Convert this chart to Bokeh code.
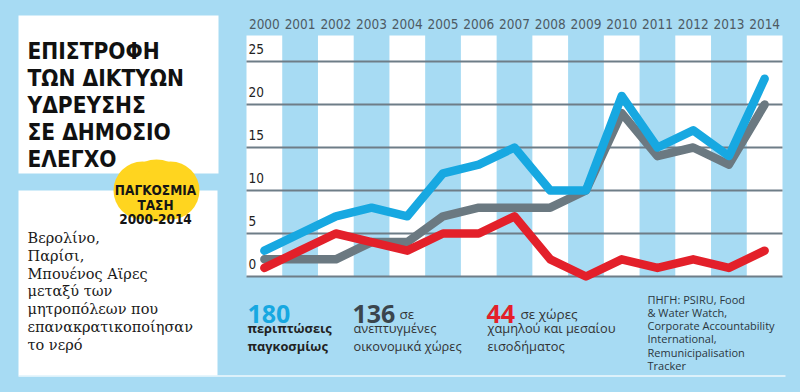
import numpy as np
from bokeh.plotting import figure
from bokeh.models import Range1d
from bokeh.core.properties import value
from bokeh.embed import file_html
from bokeh.resources import INLINE

# ---- data ----
years = [2000, 2001, 2002, 2003, 2004, 2005, 2006, 2007, 2008, 2009, 2010, 2011, 2012, 2013, 2014]
year_labels = [str(y) for y in years]
total = [3, 5, 7, 8, 7, 12, 13, 15, 10, 10, 21, 15, 17, 14, 23]          # all cases
developed = [2, 2, 2, 4, 4, 7, 8, 8, 8, 10, 19, 14, 15, 13, 20]          # developed economies
developing = [1, 3, 5, 4, 3, 5, 5, 7, 2, 0, 2, 1, 2, 1, 3]               # low/middle income
y_ticks = [0, 5, 10, 15, 20, 25]
y_tick_labels = [str(v) for v in y_ticks]

title_lines = ["ΕΠΙΣΤΡΟΦΗ", "ΤΩΝ ΔΙΚΤΥΩΝ", "ΥΔΡΕΥΣΗΣ", "ΣΕ ΔΗΜΟΣΙΟ", "ΕΛΕΓΧΟ"]
badge_lines = ["ΠΑΓΚΟΣΜΙΑ", "ΤΑΣΗ", "2000-2014"]
body_lines = ["Βερολίνο,", "Παρίσι,", "Μπουένος Αϊρες", "μεταξύ των",
              "μητροπόλεων που", "επανακρατικοποίησαν", "το νερό"]
source_lines = ["ΠΗΓΗ: PSIRU, Food", "& Water Watch,", "Corporate Accountability",
                "International,", "Remunicipalisation", "Tracker"]

# ---- geometry (reference pixel -> data) ----
W, H = 800, 392
PX_YEAR = 536 / 15.0
PX_UNIT = 43 / 5.0
X0 = 1999.5 - 246 / PX_YEAR
YTOP = 276 / PX_UNIT


def X(sx):
    return X0 + sx / PX_YEAR


def Y(sy):
    return (276 - sy) / PX_UNIT


BG = "#a7dbf3"
BLUE = "#17a8e1"
GRAY = "#6b7981"
RED = "#e3202a"
YELLOW = "#ffd51f"
NARROW = "DejaVu Sans Condensed, Roboto, sans-serif"

p = figure(width=W, height=H, output_backend="svg", toolbar_location=None,
           x_axis_type=None, y_axis_type=None, min_border=0,
           x_range=Range1d(X0, X0 + W / PX_YEAR), y_range=Range1d(YTOP - H / PX_UNIT, YTOP))
p.grid.visible = False
p.outline_line_color = None
p.background_fill_color = BG
p.border_fill_color = BG


def txt(sx, sy, s, size, color, font, style="normal", align="left", baseline="alphabetic"):
    p.text(x=[X(sx)], y=[Y(sy)], text=[s], text_font=value(font), text_font_size=f"{size}px",
           text_color=color, text_font_style=style, text_align=align, text_baseline=baseline)


# left panels
p.quad(left=X(18), right=X(218), top=Y(15), bottom=Y(173), fill_color="white", line_color=None)
p.quad(left=X(18), right=X(217), top=Y(190), bottom=Y(375), fill_color="white", line_color=None)
p.segment(x0=X(18), x1=X(785), y0=Y(375.5), y1=Y(375.5), line_color="#eef8fd", line_width=1.5)

for i, s in enumerate(title_lines):
    txt(27, 50 + i * 27, s, 22.5, "#111111", NARROW, style="bold")

for i, s in enumerate(body_lines):
    txt(27, 237.5 + i * 17.8, s, 14.5, "#1a1a1a", "DejaVu Serif")

# chart: alternating white columns
even_years = [y for y in years if y % 2 == 0]
p.vbar(x=even_years, width=1, bottom=0, top=Y(35), fill_color="white", line_color=None)
p.segment(x0=[years[0] - 0.5] * len(y_ticks), x1=[years[-1] + 0.5] * len(y_ticks),
          y0=y_ticks, y1=y_ticks, line_color="#6e7d87", line_width=2)

for series, col in [(developed, GRAY), (total, BLUE), (developing, RED)]:
    p.line(years, series, line_color=col, line_width=8.5, line_join="round", line_cap="round")

# year labels on top
p.text(x=years, y=[Y(23)] * len(years), text=year_labels, text_font=value(NARROW),
       text_font_size="13.5px", text_color="#4d5a63", text_align="center", text_baseline="middle")
# value labels above gridlines
p.text(x=[X(248)] * len(y_ticks), y=[v + 12.5 / PX_UNIT for v in y_ticks], text=y_tick_labels,
       text_font=value(NARROW), text_font_size="13.5px", text_color="#222222",
       text_align="left", text_baseline="middle")

# bottom stats
SANS = "Open Sans"
RS = 12.8
txt(247, 313.5, "180", 25, BLUE, SANS, style="bold")
txt(247, 327.5, "περιπτώσεις", RS, "#222222", SANS, style="bold")
txt(247, 345.5, "παγκοσμίως", RS, "#222222", SANS, style="bold")

txt(352, 313.5, "136", 25, "#3a454d", SANS, style="bold")
txt(399, 313.5, "σε", 13.5, "#333333", SANS)
txt(353, 327.5, "ανεπτυγμένες", RS, "#333333", SANS)
txt(353, 345.5, "οικονομικά χώρες", RS, "#333333", SANS)

txt(486, 313.5, "44", 25, RED, SANS, style="bold")
txt(520, 313.5, "σε χώρες", 13.5, "#333333", SANS)
txt(487, 327.5, "χαμηλού και μεσαίου", RS, "#333333", SANS)
txt(487, 345.5, "εισοδήματος", RS, "#333333", SANS)

for i, s in enumerate(source_lines):
    txt(647, 298.5 + i * 13.3, s, 11, "#2b3740", SANS)

# yellow badge: three overlapping discs approximating an 86x62 px oval, drawn last
p.scatter(x=[X(142), X(156), X(170)], y=[Y(190)] * 3, size=[58, 62, 58], marker="circle",
          fill_color=YELLOW, line_color=None)
for s, by in zip(badge_lines, [189.5, 204, 218]):
    txt(155, by, s, 13.5, "#151515", NARROW, style="bold", align="center")

html = file_html(p, INLINE)
html = html.replace("</head>", "<style>html,body{background:%s;}</style></head>" % BG, 1)
open("out.html", "w").write(html)
